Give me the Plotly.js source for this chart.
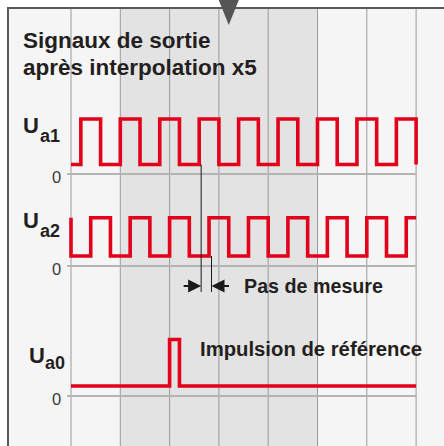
<!DOCTYPE html>
<html>
<head>
<meta charset="utf-8">
<script src="https://cdn.plot.ly/plotly-3.0.1.min.js"></script>
<style>html,body{margin:0;padding:0;background:#fff;}#chart{width:444px;height:446px;}</style>
</head>
<body>
<div id="chart"></div>
<script>
// ---------- data (time in measurement steps, logic states) ----------
const ua1Time  = [0,1,3,5,7,9,11,13,15,17,19,21,23,25,27,29,31,33,35];
const ua1State = [0,1,0,1,0,1,0,1,0,1,0,1,0,1,0,1,0,1,0];
const ua2Time  = [0,0,2,4,6,8,10,12,14,16,18,20,22,24,26,28,30,32,34,35];
const ua2State = [1,0,1,0,1,0,1,0,1,0,1,0,1,0,1,0,1,0,1,1];
const ua0Time  = [0,10,11,35];
const ua0State = [0,1,0,0];
const gridTimes = [0,5,10,15,20,25,30,35];
const shadedSpan = [5,25];
const stepMarks = [13,14];     // Ua1 / Ua2 rising edges for "Pas de mesure"
const topMarker = 16;
const titleLines = ["Signaux de sortie","après interpolation x5"];
const signalNames = [["U","a1"],["U","a2"],["U","a0"]];
const zeroLabel = "0";
const stepLabel = "Pas de mesure";
const refLabel = "Impulsion de référence";

// ---------- geometry / style ----------
const W = 444, H = 446;
const X0PX = 71, UPX = 9.86;
const RED = "#e2001a";
const FONT = "Liberation Sans, Arial, Helvetica, sans-serif";
const TXT = "#231f20";
const FRAME = 8;
// per signal: baseline pixel, px per unit, low-level value
const sig = [
  {pb:174, s:55,   low:0.173},
  {pb:266, s:48.3, low:0.207},
  {pb:396, s:56.5, low:0.177}
];
const px = v => v / W;
const py = v => 1 - v / H;
const yr = g => [(g.pb - H) / g.s, g.pb / g.s];
const valToPy = (g, v) => g.pb - v * g.s;

const mk = (t, st, g, ax) => ({
  x: t, y: st.map(s => s ? 1 : g.low), yaxis: ax, type: 'scatter', mode: 'lines',
  line: {shape: 'hv', color: RED, width: 3.6}, hoverinfo: 'skip'
});
const data = [
  mk(ua1Time, ua1State, sig[0], 'y'),
  mk(ua2Time, ua2State, sig[1], 'y2'),
  mk(ua0Time, ua0State, sig[2], 'y3')
];

const shapes = [];
shapes.push({type:'rect', layer:'below', xref:'paper', yref:'paper', x0:px(FRAME), x1:1, y0:0, y1:py(FRAME), fillcolor:'#f5f5f5', line:{width:0}});
shapes.push({type:'rect', layer:'below', xref:'x', yref:'paper', x0:shadedSpan[0], x1:shadedSpan[1], y0:0, y1:py(FRAME), fillcolor:'#e3e3e3', line:{width:0}});
gridTimes.forEach(t => shapes.push({type:'line', layer:'below', xref:'x', yref:'paper', x0:t, x1:t, y0:0, y1:py(FRAME), line:{color:'#9a9a9a', width:1}}));
['y','y2','y3'].forEach(a => shapes.push({type:'line', layer:'below', xref:'x', yref:a, x0:-0.4, x1:35, y0:0, y1:0, line:{color:'#b4b4b4', width:2}}));
// frame
shapes.push({type:'line', xref:'paper', yref:'paper', x0:px(FRAME), x1:px(FRAME), y0:0, y1:py(FRAME-1), line:{color:'#5a5a5a', width:2}});
shapes.push({type:'line', xref:'paper', yref:'paper', x0:px(FRAME-1), x1:1, y0:py(FRAME), y1:py(FRAME), line:{color:'#5a5a5a', width:2}});
// top marker
shapes.push({type:'path', xref:'x', yref:'paper', path:`M ${topMarker-1.02} ${py(0)} L ${topMarker+1.02} ${py(0)} L ${topMarker} ${py(25)} Z`, fillcolor:'#555555', line:{width:0}});
// step measurement lines
shapes.push({type:'line', xref:'x', yref:'paper', x0:stepMarks[0]+0.2, x1:stepMarks[0]+0.2, y0:py(valToPy(sig[0], sig[0].low)), y1:py(292), line:{color:'#1a1a1a', width:1}});
shapes.push({type:'line', xref:'x', yref:'paper', x0:stepMarks[1]+0.25, x1:stepMarks[1]+0.25, y0:py(valToPy(sig[1], sig[1].low)), y1:py(292), line:{color:'#1a1a1a', width:1}});

const ann = [];
const txt = (t, x, y, size, bold, anchor, color) => ann.push({
  text: bold ? `<b>${t}</b>` : t, xref:'paper', yref:'paper', x:px(x), y:py(y),
  xanchor: anchor || 'left', yanchor:'middle', showarrow:false,
  font:{family:FONT, size:size, color:color || TXT}
});
txt(titleLines[0], 20.5, 40, 22.5, true);
txt(titleLines[1], 20.5, 67.5, 22.5, true);
// signal names
txt(signalNames[0][0], 20.5, 126, 22, true); txt(signalNames[0][1], 37.5, 136, 18, true);
txt(signalNames[1][0], 20.5, 220.5, 22, true); txt(signalNames[1][1], 37.5, 230.5, 18, true);
txt(signalNames[2][0], 26.5, 355.5, 22, true); txt(signalNames[2][1], 43, 362.5, 18, true);
// zero labels
sig.forEach(g => txt(zeroLabel, 63, g.pb + 2.5, 16.5, false, 'right', '#3a3a3a'));
txt(stepLabel, 242, 285.5, 19.7, true);
txt(refLabel, 198, 349, 20.3, true);
// arrows
ann.push({text:'', xref:'x', yref:'paper', x:stepMarks[0]+0.2, y:py(286), ax:-19, ay:0, showarrow:true, arrowhead:2, arrowsize:1.3, arrowwidth:2, arrowcolor:'#1a1a1a', standoff:0});
ann.push({text:'', xref:'x', yref:'paper', x:stepMarks[1]+0.25, y:py(286), ax:19, ay:0, showarrow:true, arrowhead:2, arrowsize:1.3, arrowwidth:2, arrowcolor:'#1a1a1a', standoff:0});

const hidden = {showgrid:false, zeroline:false, showticklabels:false, showline:false, ticks:'', fixedrange:true};
const layout = {
  width:W, height:H, margin:{l:0, r:0, t:0, b:0, pad:0},
  paper_bgcolor:'#ffffff', plot_bgcolor:'rgba(0,0,0,0)', showlegend:false,
  xaxis: Object.assign({range:[(0 - X0PX)/UPX, (W - X0PX)/UPX]}, hidden),
  yaxis: Object.assign({range:yr(sig[0])}, hidden),
  yaxis2: Object.assign({range:yr(sig[1]), overlaying:'y'}, hidden),
  yaxis3: Object.assign({range:yr(sig[2]), overlaying:'y'}, hidden),
  shapes: shapes, annotations: ann
};
Plotly.newPlot('chart', data, layout, {staticPlot:true, displayModeBar:false});
</script>
</body>
</html>
